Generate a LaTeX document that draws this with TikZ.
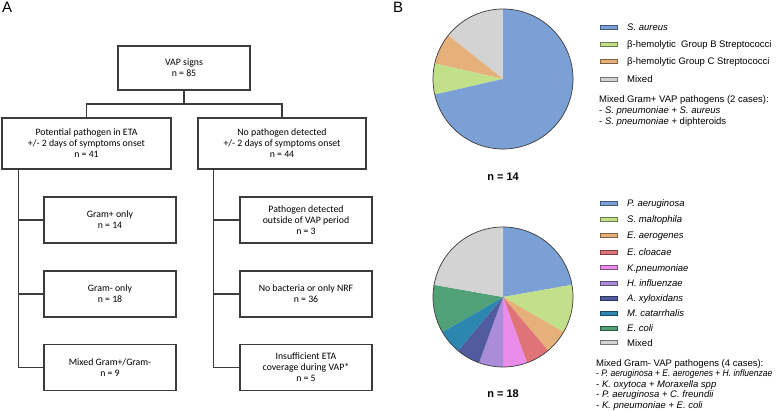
\documentclass[tikz,border=0pt]{standalone}
\usepackage{fontspec}
\usepackage{graphicx}
\setmainfont{Liberation Sans}
\newfontfamily\flowfont{Carlito}
\usetikzlibrary{calc}
\definecolor{linec}{RGB}{60,60,60}
\definecolor{pblue}{RGB}{122,160,214}
\definecolor{pgreen}{RGB}{194,224,138}
\definecolor{porange}{RGB}{229,176,122}
\definecolor{pgray}{RGB}{211,211,211}
\definecolor{pred}{RGB}{224,115,120}
\definecolor{ppink}{RGB}{234,140,234}
\definecolor{ppurple}{RGB}{170,140,216}
\definecolor{pnavy}{RGB}{80,92,158}
\definecolor{pteal}{RGB}{44,135,176}
\definecolor{pecoli}{RGB}{80,160,120}
\begin{document}
\begin{tikzpicture}[x=1pt,y=-1pt,
  box/.style={draw=linec, line width=1.1pt, fill=white, align=center,
    font=\flowfont\fontsize{9.8}{11}\selectfont, inner sep=0pt},
  conn/.style={draw=linec, line width=1.1pt},
  leg/.style={anchor=base west, font=\fontsize{9.5}{11}\selectfont, inner sep=0pt},
  panel/.style={anchor=base west, font=\fontsize{15}{15}\selectfont, inner sep=0pt},
  count/.style={anchor=base, font=\bfseries\fontsize{11}{11}\selectfont, inner sep=0pt},
  pieline/.style={draw=linec, line width=0.7pt}
]
\useasboundingbox[fill=white] (0,0) rectangle (778,411);

% ---------- Panel A ----------
\node[panel] (labA) at (2,13) {A};
\node[box, minimum width=132, minimum height=44] (vap) at (184,68) {VAP signs\\n = 85};
\node[box, minimum width=169, minimum height=51] (l1) at (86.5,143.5)
  {Potential pathogen in ETA\\+/- 2 days of symptoms onset\\n = 41};
\node[box, minimum width=168, minimum height=51] (r1) at (282,143.5)
  {No pathogen detected\\+/- 2 days of symptoms onset\\n = 44};
\node[box, minimum width=132, minimum height=46] (g1) at (110,220) {Gram+ only\\n = 14};
\node[box, minimum width=132, minimum height=46] (g2) at (110,294) {Gram- only\\n = 18};
\node[box, minimum width=132, minimum height=46] (g3) at (110,367.5) {Mixed Gram+/Gram-\\n = 9};
\node[box, minimum width=132, minimum height=46] (q1) at (306,220)
  {Pathogen detected\\outside of VAP period\\n = 3};
\node[box, minimum width=132, minimum height=46] (q2) at (306,294) {No bacteria or only NRF\\n = 36};
\node[box, minimum width=132, minimum height=46] (q3) at (306,367.5)
  {Insufficient ETA\\coverage during VAP*\\n = 5};

\coordinate (split) at (184,104);
\draw[conn] (vap.south) -- (split);
\draw[conn] (l1.north) |- (split) -| (r1.north);

\coordinate (ltop) at ([xshift=17pt]l1.south west);
\draw[conn] (ltop) |- (g3.west);
\draw[conn] (g1.west) -- (g1.west -| ltop);
\draw[conn] (g2.west) -- (g2.west -| ltop);

\coordinate (rtop) at ([xshift=16pt]r1.south west);
\draw[conn] (rtop) |- (q3.west);
\draw[conn] (q1.west) -- (q1.west -| rtop);
\draw[conn] (q2.west) -- (q2.west -| rtop);

% ---------- Panel B ----------
\node[panel] (labB) at (393,13) {B};

% Pie 1 (n = 14)
\begin{scope}[shift={(503,79)}, yscale=-1]
  \fill[pgray]   (0,0) -- (90:70) arc[start angle=90, end angle=141.43, radius=70] -- cycle;
  \fill[porange] (0,0) -- (141.43:70) arc[start angle=141.43, end angle=167.14, radius=70] -- cycle;
  \fill[pgreen]  (0,0) -- (167.14:70) arc[start angle=167.14, end angle=192.86, radius=70] -- cycle;
  \fill[pblue]   (0,0) -- (192.86:70) arc[start angle=192.86, end angle=450, radius=70] -- cycle;
  \draw[pieline] (0,0) circle[radius=70];
\end{scope}
\node[count] (n14) at (503,181) {n = 14};

% Legend 1
\foreach \yy/\cc in {27/pblue, 44.3/pgreen, 61.6/porange, 79/pgray}{
  \draw[fill=\cc, draw=\cc!55!black, line width=0.6pt] (600,\yy-2) rectangle (617.5,\yy+2);
}
\node[leg] (a1) at (627,30.4) {\textit{S. aureus}};
\node[leg] (a2) at (627,47.7) {β-hemolytic\ \ Group B Streptococci};
\node[leg] (a3) at (627,65) {β-hemolytic Group C Streptococci};
\node[leg] (a4) at (627,82.4) {Mixed};
\node[leg] (a5) at (599,102.7) {Mixed Gram+ VAP pathogens (2 cases):};
\node[leg] (a6) at (599,113.7) {- \textit{S. pneumoniae} + \textit{S. aureus}};
\node[leg] (a7) at (599,125) {- \textit{S. pneumoniae} + diphteroids};

% Pie 2 (n = 18)
\begin{scope}[shift={(503,297)}, yscale=-1]
  \fill[pblue]   (0,0) -- (10:70) arc[start angle=10, end angle=90, radius=70] -- cycle;
  \fill[pgreen]  (0,0) -- (-30:70) arc[start angle=-30, end angle=10, radius=70] -- cycle;
  \fill[porange] (0,0) -- (-50:70) arc[start angle=-50, end angle=-30, radius=70] -- cycle;
  \fill[pred]    (0,0) -- (-70:70) arc[start angle=-70, end angle=-50, radius=70] -- cycle;
  \fill[ppink]   (0,0) -- (-90:70) arc[start angle=-90, end angle=-70, radius=70] -- cycle;
  \fill[ppurple] (0,0) -- (-110:70) arc[start angle=-110, end angle=-90, radius=70] -- cycle;
  \fill[pnavy]   (0,0) -- (-130:70) arc[start angle=-130, end angle=-110, radius=70] -- cycle;
  \fill[pteal]   (0,0) -- (-150:70) arc[start angle=-150, end angle=-130, radius=70] -- cycle;
  \fill[pecoli]  (0,0) -- (-190:70) arc[start angle=-190, end angle=-150, radius=70] -- cycle;
  \fill[pgray]   (0,0) -- (90:70) arc[start angle=90, end angle=170, radius=70] -- cycle;
  \draw[pieline] (0,0) circle[radius=70];
\end{scope}
\node[count] (n18) at (503,397) {n = 18};

% Legend 2
\foreach \yy/\cc in {203.5/pblue, 219/pgreen, 235.5/porange, 252/pred, 267.7/ppink,
                     283.3/ppurple, 298.3/pnavy, 313.3/pteal, 328.3/pecoli, 342.7/pgray}{
  \draw[fill=\cc, draw=\cc!55!black, line width=0.6pt] (600,\yy-2) rectangle (617.5,\yy+2);
}
\node[leg] (b1) at (627,206.9) {\textit{P. aeruginosa}};
\node[leg] (b2) at (627,222.4) {\textit{S. maltophila}};
\node[leg] (b3) at (627,238.9) {\textit{E. aerogenes}};
\node[leg] (b4) at (627,255.4) {\textit{E. cloacae}};
\node[leg] (b5) at (627,271.1) {\textit{K.pneumoniae}};
\node[leg] (b6) at (627,286.7) {\textit{H. influenzae}};
\node[leg] (b7) at (627,301.7) {\textit{A. xyloxidans}};
\node[leg] (b8) at (627,316.7) {\textit{M. catarrhalis}};
\node[leg] (b9) at (627,331.7) {\textit{E. coli}};
\node[leg] (b10) at (627,346.1) {Mixed};
\node[leg] (c1) at (596,366.5) {Mixed Gram- VAP pathogens (4 cases):};
\node[leg] (c2) at (596,376.8) {\scalebox{0.895}[1]{- \textit{P. aeruginosa} + \textit{E. aerogenes} + \textit{H. influenzae}}};
\node[leg] (c3) at (596,387.4) {- \textit{K. oxytoca} + \textit{Moraxella spp}};
\node[leg] (c4) at (596,397.7) {- \textit{P. aeruginosa} + \textit{C. freundii}};
\node[leg] (c5) at (596,408.3) {- \textit{K. pneumoniae} + \textit{E. coli}};
\end{tikzpicture}
\end{document}
